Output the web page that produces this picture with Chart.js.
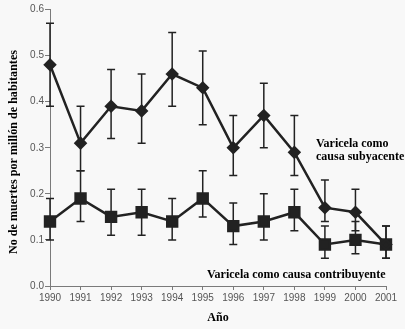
<!DOCTYPE html>
<html>
<head>
<meta charset="utf-8">
<script src="https://cdn.jsdelivr.net/npm/chart.js@4"></script>
<style>
  html, body { margin: 0; padding: 0; background: #f8f8f8; }
  #wrap { width: 405px; height: 329px; position: relative; }
</style>
</head>
<body>
<div id="wrap"><canvas id="mycanvas"></canvas></div>
<script>
// data
var years = ['1990','1991','1992','1993','1994','1995','1996','1997','1998','1999','2000','2001'];
var yTicks = [0, 0.1, 0.2, 0.3, 0.4, 0.5, 0.6];

var subyacente     = [0.48, 0.31, 0.39, 0.38, 0.46, 0.43, 0.30, 0.37, 0.29, 0.17, 0.16, 0.09];
var subyacenteLow  = [0.39, 0.25, 0.32, 0.31, 0.39, 0.35, 0.24, 0.30, 0.24, 0.14, 0.12, 0.06];
var subyacenteHigh = [0.57, 0.39, 0.47, 0.46, 0.55, 0.51, 0.37, 0.44, 0.37, 0.23, 0.21, 0.13];

var contribuyente     = [0.14, 0.19, 0.15, 0.16, 0.14, 0.19, 0.13, 0.14, 0.16, 0.09, 0.10, 0.09];
var contribuyenteLow  = [0.10, 0.14, 0.11, 0.11, 0.10, 0.15, 0.09, 0.10, 0.12, 0.06, 0.07, 0.06];
var contribuyenteHigh = [0.19, 0.25, 0.21, 0.21, 0.19, 0.25, 0.18, 0.20, 0.21, 0.13, 0.14, 0.13];

var yTitle = 'No de muertes por millón de habitantes';

var ink = '#222222';
var axisGray = '#7a7a7a';
var serifBold = { family: '"Liberation Serif", "DejaVu Serif", serif', weight: 'bold', size: 12 };

// whiskers drawn under the markers
var errorBars = {
    id: 'errorBars',
    beforeDatasetsDraw: function(chart){
        var ctx = chart.ctx;
        var xs = chart.scales.x, ys = chart.scales.y;
        ctx.save();
        ctx.strokeStyle = ink;
        ctx.lineWidth = 1.5;
        chart.data.datasets.forEach(function(ds){
            for(var i = 0; i < ds.data.length; i++){
                var x = xs.getPixelForValue(i);
                var yLo = ys.getPixelForValue(ds.errLow[i]);
                var yHi = ys.getPixelForValue(ds.errHigh[i]);
                ctx.beginPath();
                ctx.moveTo(x, yLo); ctx.lineTo(x, yHi);
                ctx.moveTo(x - 4, yLo); ctx.lineTo(x + 4, yLo);
                ctx.moveTo(x - 4, yHi); ctx.lineTo(x + 4, yHi);
                ctx.stroke();
            }
        });
        ctx.restore();
    }
};

// series labels + condensed y title
var seriesLabels = {
    id: 'seriesLabels',
    afterDraw: function(chart){
        var ctx = chart.ctx;
        ctx.save();
        ctx.fillStyle = '#000';
        ctx.font = 'bold 12px "Liberation Serif", serif';
        ctx.textBaseline = 'middle';
        ctx.textAlign = 'left';
        ctx.fillText('Varicela como', 316, 144);
        ctx.fillText('causa subyacente', 316, 157);
        ctx.fillText('Varicela como causa contribuyente', 207, 275);

        // y title, squeezed to the width the original uses
        ctx.font = 'bold 13px "Liberation Serif", serif';
        var w = ctx.measureText(yTitle).width;
        ctx.translate(14, 152);
        ctx.rotate(-Math.PI / 2);
        ctx.scale(204 / w, 1);
        ctx.textAlign = 'center';
        ctx.fillText(yTitle, 0, 0);
        ctx.restore();
    }
};

var ctx = document.getElementById('mycanvas');

var lineChart = new Chart(ctx, {
    type: 'line',
    data: {
        labels: years,
        datasets: [
            {
                label: 'Varicela como causa subyacente',
                data: subyacente,
                errLow: subyacenteLow,
                errHigh: subyacenteHigh,
                borderColor: ink,
                backgroundColor: ink,
                borderWidth: 2.5,
                pointStyle: 'rectRot',
                pointRadius: 5,
                pointHoverRadius: 5,
                tension: 0
            },
            {
                label: 'Varicela como causa contribuyente',
                data: contribuyente,
                errLow: contribuyenteLow,
                errHigh: contribuyenteHigh,
                borderColor: ink,
                backgroundColor: ink,
                borderWidth: 2.5,
                pointStyle: 'rect',
                pointRadius: 7,
                pointHoverRadius: 7,
                tension: 0
            }
        ]
    },
    options: {
        responsive: true,
        maintainAspectRatio: false,
        animation: false,
        layout: { padding: { left: 0, right: 19, top: 8, bottom: 0 } },
        plugins: {
            legend: { display: false },
            tooltip: { enabled: false }
        },
        scales: {
            x: {
                type: 'category',
                offset: false,
                border: { color: axisGray, width: 1 },
                grid: { drawOnChartArea: false, color: axisGray, tickLength: 4 },
                ticks: { color: '#555', font: { family: '"Liberation Sans", sans-serif', size: 10 }, padding: 2, maxRotation: 0, autoSkip: false },
                title: { display: true, text: 'Año', color: '#000', font: serifBold, padding: { top: 10 } },
                afterFit: function(scale){ scale.height = 43; }
            },
            y: {
                min: 0,
                max: 0.6,
                afterBuildTicks: function(scale){
                    scale.ticks = yTicks.map(function(v){ return { value: v }; });
                },
                border: { color: axisGray, width: 1 },
                grid: { drawOnChartArea: false, color: axisGray, tickLength: 5 },
                ticks: {
                    color: '#555',
                    font: { family: '"Liberation Sans", sans-serif', size: 10 },
                    padding: 1,
                    callback: function(v){ return v.toFixed(1); }
                },
                title: { display: false },
                afterFit: function(scale){ scale.width = 50; }
            }
        }
    },
    plugins: [errorBars, seriesLabels]
});
</script>
</body>
</html>
